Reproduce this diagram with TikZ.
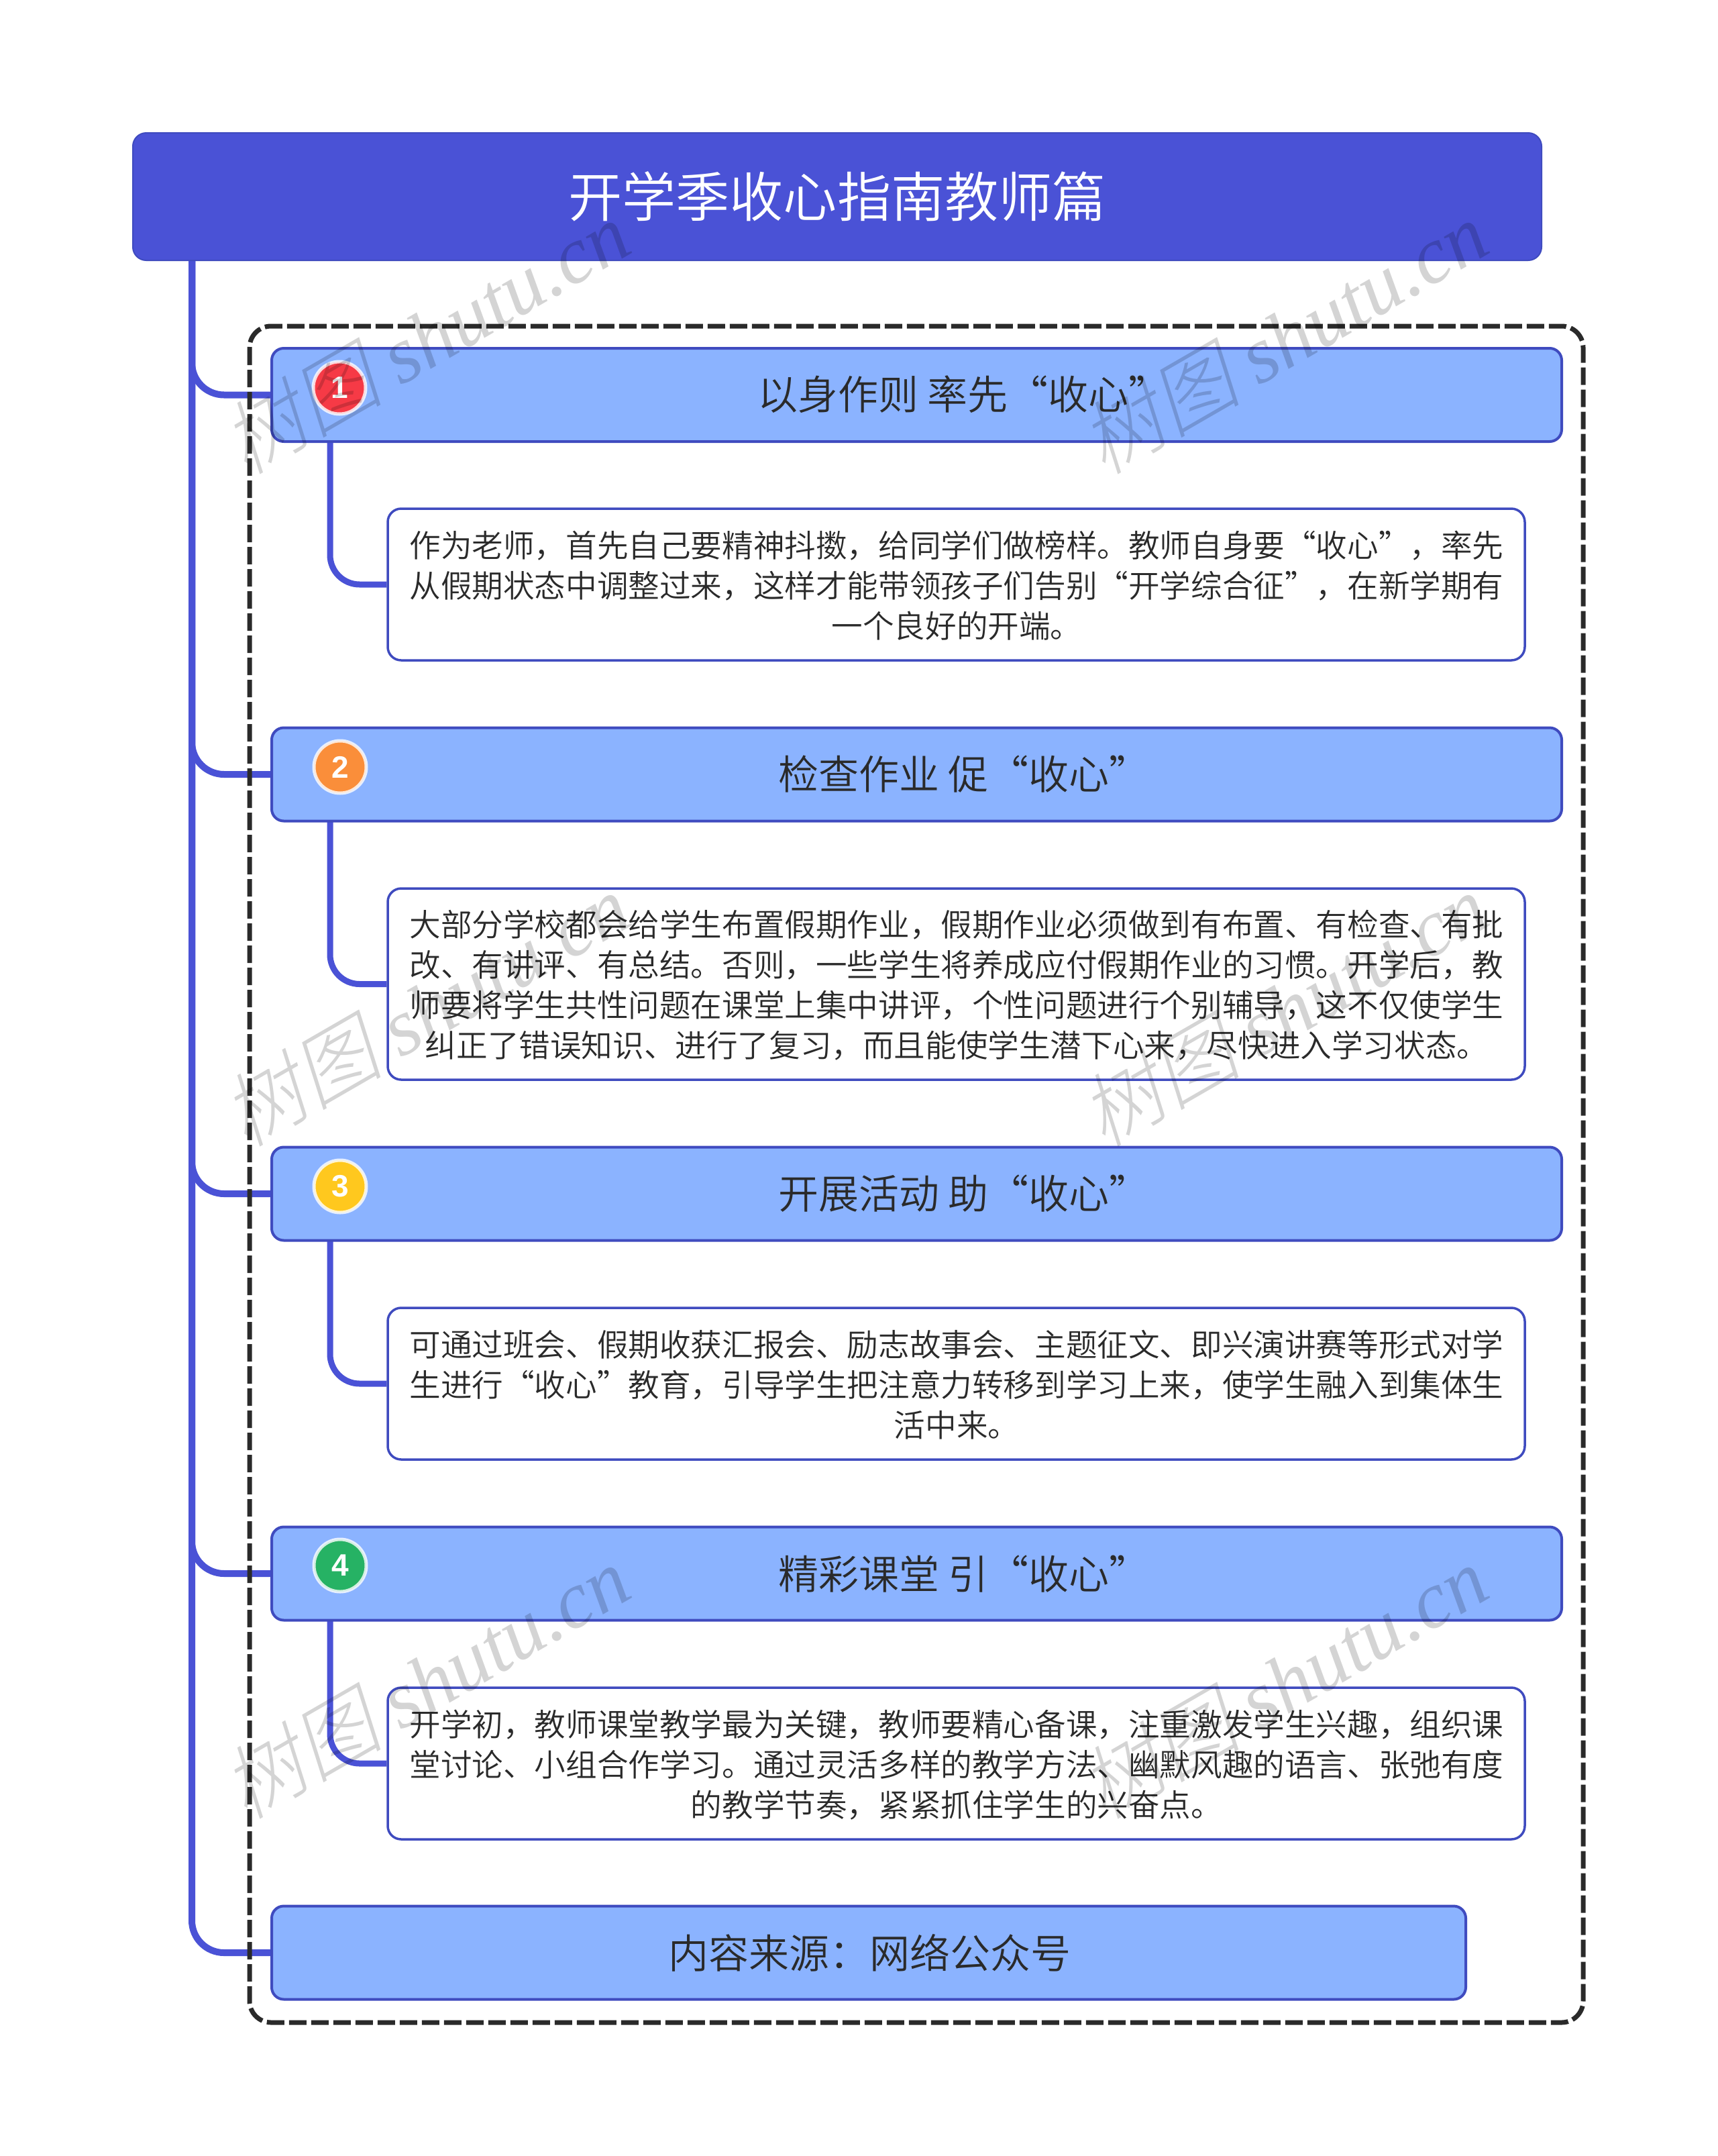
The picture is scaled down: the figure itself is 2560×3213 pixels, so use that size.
\documentclass[tikz,border=0pt]{standalone}
\usepackage{fontspec}
\setmainfont{Noto Sans CJK SC}[UprightFont={* DemiLight},BoldFont={* Bold}]
\newfontfamily\wmcjk{Noto Sans CJK SC}[UprightFont={* Light},FakeSlant=0.22]
\newfontfamily\wmlat{Liberation Serif}
\newfontfamily\numfont{Liberation Sans}
\definecolor{rootc}{HTML}{4A52D6}
\definecolor{edgec}{HTML}{3F4BBF}
\definecolor{branchc}{HTML}{8BB3FF}
\definecolor{inkc}{HTML}{2A2A2A}
\pgfdeclarelayer{under}
\pgfsetlayers{under,main}
\tikzset{
  rootbox/.style={draw=edgec,line width=2pt,fill=rootc,rounded corners=20pt,minimum width=2100pt,minimum height=190pt,inner sep=0pt},
  branchbox/.style={draw=edgec,line width=4pt,fill=branchc,rounded corners=18pt,minimum height=139pt,inner sep=0pt},
  detailbox/.style={draw=edgec,line width=3.5pt,fill=white,rounded corners=20pt,minimum width=1695pt,inner sep=0pt},
  detailtext/.style={align=center,text=inkc,inner sep=0pt,font=\fontsize{46.6}{60}\selectfont},
  roottext/.style={text=white,font=\fontsize{80.2}{96}\selectfont,inner sep=0pt},
  branchtext/.style={text=inkc,font=\fontsize{60}{72}\selectfont,inner sep=0pt},
  trunk/.style={draw=rootc,line width=10pt,rounded corners=48pt},
  subtrunk/.style={draw=rootc,line width=9pt,rounded corners=44pt},
  frameline/.style={draw=inkc,line width=7pt,dash pattern=on 26pt off 7pt,rounded corners=32pt},
  badge/.style={circle,draw=white,draw opacity=.8,line width=5pt,minimum size=78pt,inner sep=0pt,text=white,font=\numfont\bfseries\fontsize{46}{50}\selectfont},
  wm/.style={rotate=30,black,opacity=.17,inner sep=0pt,font=\fontsize{120}{130}\selectfont},
}
\newcommand{\wmark}[3]{\node[wm] (#1) at (#2,#3) {{\wmcjk 树图} {\wmlat\itshape shutu.cn}};}
\begin{document}
\begin{tikzpicture}[x=1pt,y=-1pt]
\useasboundingbox (0,0) rectangle (2560,3213);

\coordinate (rootdrop) at (286,380);
\coordinate (s1) at (492,650);
\coordinate (s2) at (492,1216);
\coordinate (s3) at (492,1841);
\coordinate (s4) at (492,2407);
\coordinate (fa) at (372,486);
\coordinate (fb) at (2360,3014);

\node[rootbox,roottext] (root) at (1248,293) {开学季收心指南教师篇};
\node[branchbox,minimum width=1923pt] (b1) at (1366.5,588.5) {};
\node[branchbox,minimum width=1923pt] (b2) at (1366.5,1154) {};
\node[branchbox,minimum width=1923pt] (b3) at (1366.5,1779) {};
\node[branchbox,minimum width=1923pt] (b4) at (1366.5,2345) {};
\node[branchbox,minimum width=1780pt] (b5) at (1295,2910) {};

\node[branchtext] (t1) at (1436,588) {以身作则 率先“收心”};
\node[branchtext] (t2) at (1437,1154) {检查作业 促“收心”};
\node[branchtext] (t3) at (1437,1779) {开展活动 助“收心”};
\node[branchtext] (t4) at (1437,2345) {精彩课堂 引“收心”};
\node[branchtext] (t5) at (1296,2910) {内容来源：网络公众号};

\node[detailbox,minimum height=226pt] (d1) at (1425.5,871) {};
\node[detailbox,minimum height=285pt] (d2) at (1425.5,1466.5) {};
\node[detailbox,minimum height=226pt] (d3) at (1425.5,2062) {};
\node[detailbox,minimum height=226pt] (d4) at (1425.5,2628) {};

\node[detailtext] (dt1) at (1426,873) {作为老师，首先自己要精神抖擞，给同学们做榜样。教师自身要“收心”，率先\\从假期状态中调整过来，这样才能带领孩子们告别“开学综合征”，在新学期有\\一个良好的开端。};
\node[detailtext] (dt2) at (1426,1468.5) {大部分学校都会给学生布置假期作业，假期作业必须做到有布置、有检查、有批\\改、有讲评、有总结。否则，一些学生将养成应付假期作业的习惯。开学后，教\\师要将学生共性问题在课堂上集中讲评，个性问题进行个别辅导，这不仅使学生\\纠正了错误知识、进行了复习，而且能使学生潜下心来，尽快进入学习状态。};
\node[detailtext] (dt3) at (1426,2064) {可通过班会、假期收获汇报会、励志故事会、主题征文、即兴演讲赛等形式对学\\生进行“收心”教育，引导学生把注意力转移到学习上来，使学生融入到集体生\\活中来。};
\node[detailtext] (dt4) at (1426,2630) {开学初，教师课堂教学最为关键，教师要精心备课，注重激发学生兴趣，组织课\\堂讨论、小组合作学习。通过灵活多样的教学方法、幽默风趣的语言、张弛有度\\的教学节奏，紧紧抓住学生的兴奋点。};

\begin{pgfonlayer}{under}
\fill[white] (0,0) rectangle (2560,3213);
\draw[trunk] (rootdrop) |- (b1.west);
\draw[trunk] (rootdrop) |- (b2.west);
\draw[trunk] (rootdrop) |- (b3.west);
\draw[trunk] (rootdrop) |- (b4.west);
\draw[trunk] (rootdrop) |- (b5.west);
\draw[subtrunk] (s1) |- (d1.west);
\draw[subtrunk] (s2) |- (d2.west);
\draw[subtrunk] (s3) |- (d3.west);
\draw[subtrunk] (s4) |- (d4.west);
\draw[frameline] (fa) rectangle (fb);
\end{pgfonlayer}

\node[badge,fill={rgb,255:red,246;green,58;blue,70}] (i1) at (506,578) {1};
\node[badge,fill={rgb,255:red,250;green,142;blue,58}] (i2) at (507,1143) {2};
\node[badge,fill={rgb,255:red,255;green,200;blue,30}] (i3) at (507,1768) {3};
\node[badge,fill={rgb,255:red,38;green,178;blue,100}] (i4) at (507,2333) {4};

\wmark{w1}{634}{502}
\wmark{w2}{1913}{502}
\wmark{w3}{634}{1504}
\wmark{w4}{1913}{1504}
\wmark{w5}{634}{2506}
\wmark{w6}{1913}{2506}
\end{tikzpicture}
\end{document}
